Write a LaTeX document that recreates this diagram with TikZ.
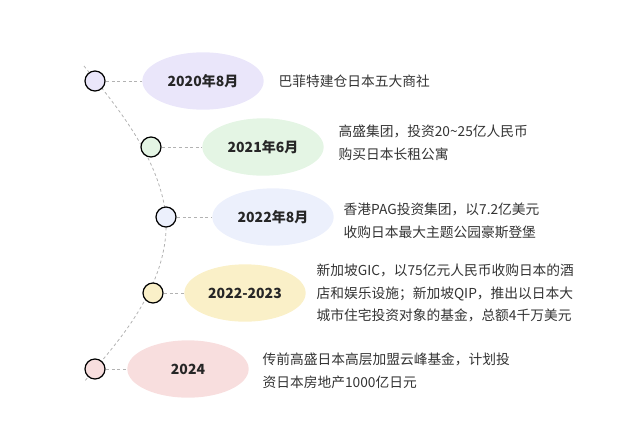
\documentclass[tikz,border=0pt]{standalone}
\usetikzlibrary{shapes.geometric}
\usepackage{fontspec}
\setmainfont{Noto Sans CJK SC}
\begin{document}
\begin{tikzpicture}[x=0.75pt,y=-0.75pt,
  dot/.style={circle,draw=black,line width=0.9pt,minimum size=15pt,inner sep=0},
  pill/.style={ellipse,minimum width=91pt,minimum height=43pt,inner sep=0},
  lab/.style={font=\fontsize{10.5}{12}\selectfont\bfseries,text=black!85},
  desc/.style={anchor=west,align=left,font=\fontsize{10.3}{17}\selectfont,text=black!80},
  link/.style={draw=black!30,dash pattern=on 2.2pt off 2pt,line width=0.6pt}]
\useasboundingbox (0,0) rectangle (622,432);
\definecolor{c1}{RGB}{234,230,250}
\definecolor{c2}{RGB}{228,245,228}
\definecolor{c3}{RGB}{236,240,252}
\definecolor{c4}{RGB}{250,240,200}
\definecolor{c5}{RGB}{248,222,222}
\draw[link] (84,66) .. controls (120,110) and (160,160) .. (166,217) .. controls (170,290) and (110,350) .. (84,382);
\foreach \i/\cx/\cy/\ex in {1/95/81/203,2/151/147/263,3/166/217/273,4/153/293/245,5/95/369/188}{
  \node[pill,fill=c\i] (e\i) at (\ex,\cy) {};
  \draw[link] (\cx,\cy) -- (e\i.west);
  \node[dot,fill=c\i] (d\i) at (\cx,\cy) {};
}
\node[lab] at (e1) {2020年8月};
\node[lab] at (e2) {2021年6月};
\node[lab] at (e3) {2022年8月};
\node[lab] at (e4) {2022-2023};
\node[lab] at (e5) {2024};
\node[desc] (t1) at (274,81) {巴菲特建仓日本五大商社};
\node[desc] (t2) at (334,143) {高盛集团，投资20\textasciitilde25亿人民币\\购买日本长租公寓};
\node[desc] (t3) at (339,221) {香港PAG投资集团，以7.2亿美元\\收购日本最大主题公园豪斯登堡};
\node[desc] (t4) at (312,293) {新加坡GIC，以75亿元人民币收购日本的酒\\店和娱乐设施；新加坡QIP，推出以日本大\\城市住宅投资对象的基金，总额4千万美元};
\node[desc] (t5) at (258,371) {传前高盛日本高层加盟云峰基金，计划投\\资日本房地产1000亿日元};
\end{tikzpicture}
\end{document}
